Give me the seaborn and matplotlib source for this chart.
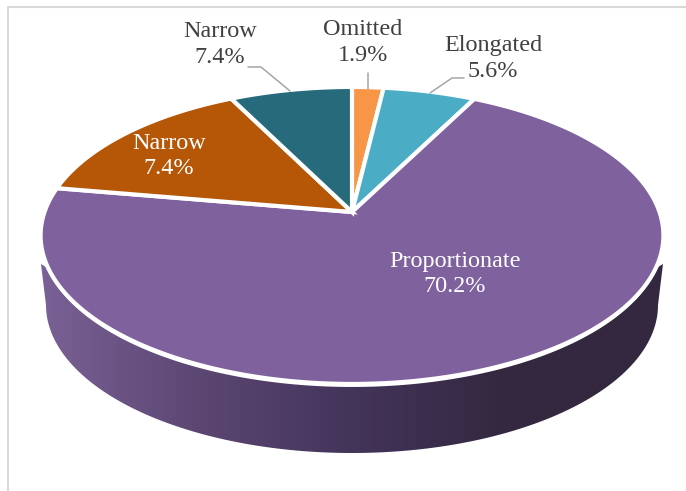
import numpy as np
import matplotlib
matplotlib.use("Agg")
import matplotlib.pyplot as plt
from matplotlib.colors import LinearSegmentedColormap
from matplotlib.patches import Polygon
import seaborn as sns

# shares that set the slice sizes, clockwise from 12 o'clock
categories = ["Omitted", "Elongated", "Proportionate", "Narrow", "Narrow"]
slice_values = [1.9, 5.6, 70.2, 14.9, 7.4]
# the percentages printed on the chart (the brown slice is printed as 7.4%)
label_values = [1.9, 5.6, 70.2, 7.4, 7.4]
slice_colors = ["#F79646", "#4BACC6", "#7F619E", "#B65708", "#276A7C"]
side_colors = ["#7A6196", "#5C4773", "#43345A", "#33283F", "#33283F"]

# pixel layout of the tilted disc
CX, CY = 352, 212
TILT = 0.158
RX, RY = 307.5, 144.8


def project(theta):
    # theta is clockwise from 12 o'clock, disc seen in perspective
    s, c = np.sin(theta), np.cos(theta)
    w = 1 + TILT * c
    return CX + RX * s / w, CY - RY * c / w


def draw_side(ax):
    # wall below the front edge of the disc
    t = np.linspace(np.radians(110), np.radians(250), 200)
    top_x, top_y = project(t)
    # lower rim runs back from left to right
    t2 = np.linspace(np.pi, 0, 200)
    low_x = 352 + 306 * np.cos(t2)
    low_y = 305 + 148 * np.sin(t2)
    xs = np.r_[663, top_x, 41, low_x]
    ys = np.r_[264, top_y + 3, 264, low_y]
    cmap = LinearSegmentedColormap.from_list("side", sns.color_palette(side_colors))
    im = ax.imshow(np.linspace(0, 1, 256)[None, :], cmap=cmap, extent=(40, 665, 460, 250),
                   aspect="auto", zorder=1)
    poly = Polygon(np.c_[xs, ys], transform=ax.transData, facecolor="none", edgecolor="none")
    ax.add_patch(poly)
    im.set_clip_path(poly)


def draw_slices(ax):
    edges = np.r_[0, np.cumsum(slice_values)] / np.sum(slice_values) * 2 * np.pi
    palette = sns.color_palette(slice_colors)
    for i in range(len(slice_values)):
        t = np.linspace(edges[i], edges[i + 1], 200)
        x, y = project(t)
        ax.fill(np.r_[CX, x], np.r_[CY, y], facecolor=palette[i], edgecolor="white",
                linewidth=3, joinstyle="miter", zorder=2)


def draw_labels(ax):
    dark = "#404040"
    line = "#A6A6A6"
    spots = [(363, 42.5, dark), (493, 58.5, dark), (455, 274, "white"), (169, 156, "white"), (220, 44.5, dark)]
    for name, val, (x, y, col) in zip(categories, label_values, spots):
        ax.text(x, y, f"{name}\n{val}%", ha="center", va="center", color=col, fontsize=17.4,
                linespacing=1.3, zorder=4)
    ax.plot([248, 261, 290], [67, 67, 91], color=line, lw=1.1, zorder=3)
    ax.plot([368, 368], [73, 89], color=line, lw=1.1, zorder=3)
    ax.plot([464, 452, 430], [78, 78, 93], color=line, lw=1.1, zorder=3)


def main():
    sns.set_theme(style="white")
    plt.rcParams["font.family"] = ["Liberation Serif", "DejaVu Serif"]
    fig = plt.figure(figsize=(6.86, 4.91), dpi=100)
    ax = fig.add_axes([0, 0, 1, 1])
    draw_side(ax)
    draw_slices(ax)
    draw_labels(ax)
    # chart frame, cut by the screenshot on the right and bottom
    ax.plot([8, 8, 686], [491, 7, 7], color="#D9D9D9", lw=1.5, zorder=0)
    ax.set_xlim(0, 686)
    ax.set_ylim(491, 0)
    ax.axis("off")
    fig.savefig("out.png", dpi=100)


if "__main__" == __name__:
    main()
